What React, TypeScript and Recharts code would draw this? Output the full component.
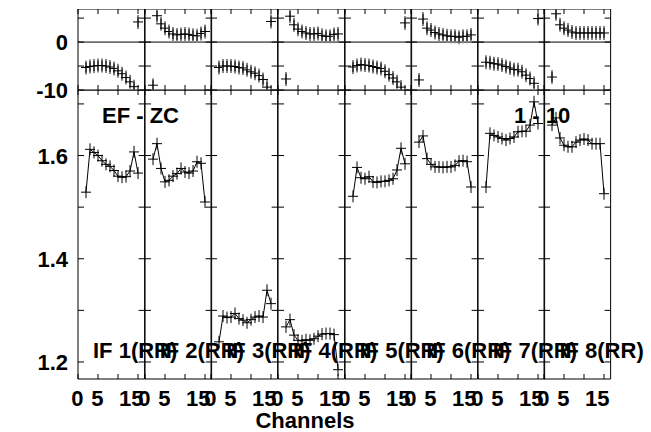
import {
  Line,
  LineChart,
  ReferenceLine,
  Scatter,
  ScatterChart,
  XAxis,
  YAxis,
} from "recharts";

// channels plotted in every IF panel
const CHANNELS = [2, 3, 4, 5, 6, 7, 8, 9, 10, 11, 12, 13, 14, 15];
const IF_NAMES = ["IF 1(RR)", "IF 2(RR)", "IF 3(RR)", "IF 4(RR)", "IF 5(RR)", "IF 6(RR)", "IF 7(RR)", "IF 8(RR)"];

// amplitude per channel
const AMP_IF1 = [1.529, 1.612, 1.606, 1.6, 1.59, 1.583, 1.579, 1.571, 1.56, 1.558, 1.559, 1.57, 1.607, 1.566];
const AMP_IF2 = [1.593, 1.623, 1.575, 1.549, 1.552, 1.56, 1.565, 1.575, 1.568, 1.566, 1.57, 1.588, 1.585, 1.51];
const AMP_IF3 = [1.239, 1.289, 1.286, 1.287, 1.294, 1.284, 1.281, 1.276, 1.282, 1.287, 1.289, 1.287, 1.339, 1.313];
const AMP_IF4 = [1.268, 1.282, 1.252, 1.242, 1.241, 1.243, 1.242, 1.245, 1.25, 1.254, 1.255, 1.255, 1.253, 1.185];
const AMP_IF5 = [1.521, 1.577, 1.557, 1.555, 1.559, 1.549, 1.548, 1.55, 1.55, 1.552, 1.555, 1.572, 1.614, 1.584];
const AMP_IF6 = [1.626, 1.638, 1.594, 1.583, 1.578, 1.578, 1.577, 1.578, 1.578, 1.581, 1.589, 1.59, 1.588, 1.539];
const AMP_IF7 = [1.539, 1.643, 1.639, 1.636, 1.633, 1.63, 1.633, 1.636, 1.646, 1.647, 1.647, 1.659, 1.704, 1.662];
const AMP_IF8 = [1.659, 1.673, 1.634, 1.62, 1.617, 1.617, 1.626, 1.63, 1.632, 1.63, 1.623, 1.623, 1.623, 1.526];

// phase per channel (degrees)
const PHASE_IF1 = [-5.3, -5.1, -5.0, -4.9, -4.9, -5.0, -5.2, -5.5, -6.0, -6.6, -7.4, -8.3, -9.3, 4.2];
const PHASE_IF2 = [-9.0, 5.5, 3.8, 2.9, 2.2, 1.7, 1.5, 1.6, 1.7, 1.6, 1.4, 1.3, 1.8, 2.2];
const PHASE_IF3 = [-5.3, -5.0, -5.0, -5.0, -5.1, -5.3, -5.4, -5.8, -6.2, -6.5, -7.0, -7.8, -9.4, 4.3];
const PHASE_IF4 = [-7.7, 5.4, 3.6, 2.7, 2.2, 1.9, 1.7, 1.7, 1.8, 1.4, 1.2, 1.2, 1.6, 1.7];
const PHASE_IF5 = [-5.2, -4.9, -4.7, -4.8, -4.9, -5.1, -5.3, -5.5, -6.1, -6.8, -7.5, -8.3, -9.4, 4.0];
const PHASE_IF6 = [-7.9, 4.8, 2.9, 2.5, 2.0, 1.7, 1.5, 1.3, 1.2, 1.2, 1.0, 1.2, 1.2, 1.5];
const PHASE_IF7 = [-4.2, -4.3, -4.5, -4.6, -4.8, -5.1, -5.4, -5.7, -5.8, -6.2, -6.9, -7.6, -8.6, 4.9];
const PHASE_IF8 = [-7.3, 5.9, 3.6, 2.9, 2.5, 2.1, 1.9, 1.9, 1.9, 1.9, 1.9, 1.9, 1.9, 1.9];

const AMP_SERIES = [AMP_IF1, AMP_IF2, AMP_IF3, AMP_IF4, AMP_IF5, AMP_IF6, AMP_IF7, AMP_IF8];
const PHASE_SERIES = [PHASE_IF1, PHASE_IF2, PHASE_IF3, PHASE_IF4, PHASE_IF5, PHASE_IF6, PHASE_IF7, PHASE_IF8];

const X_TICKS = [0, 5, 10, 15];
const X_TICK_LABELS = ["0", "5", "", "15"];
const AMP_TICKS = [1.2, 1.3, 1.4, 1.5, 1.6, 1.7];
const AMP_TICK_LABELS = ["1.2", "", "1.4", "", "1.6", ""];
const PHASE_TICKS = [-10, -5, 0, 5];
const PHASE_TICK_LABELS = ["-10", "", "0", ""];

const X_DOMAIN: [number, number] = [0, 16.65];
const AMP_DOMAIN: [number, number] = [1.167, 1.727];
const PHASE_DOMAIN: [number, number] = [-10, 6.9];

const FRAME_LEFT = 78;
const PANEL_W = 66.625;
const PHASE_TOP = 9;
const PHASE_H = 81;
const AMP_TOP = 90;
const AMP_H = 289;
const PAD = 24;
const LABEL_H = 40;
const TICK = 6;

const FONT = {
  fontFamily: '"Liberation Sans", Arial, Helvetica, sans-serif',
  fontWeight: 700,
  fontSize: 22,
  fill: "#000",
};

function labelFor(value: number, ticks?: number[], labels?: string[]) {
  if (!ticks || !labels) return "";
  const i = ticks.findIndex((t) => Math.abs(t - value) < 1e-6);
  return i >= 0 ? labels[i] : "";
}

function leftLabel(ticks?: number[], labels?: string[]) {
  return (props: any) => {
    const { x, y, payload } = props;
    const text = labelFor(payload.value, ticks, labels);
    if (!text) return <g />;
    return (
      <text x={x - 10} y={y + 8} textAnchor="end" {...FONT}>
        {text}
      </text>
    );
  };
}

function bottomLabel(props: any) {
  const { x, y, payload } = props;
  const text = labelFor(payload.value, X_TICKS, X_TICK_LABELS);
  if (!text) return <g />;
  return (
    <text x={x + 5.5} y={y + 27} textAnchor="end" {...FONT}>
      {text}
    </text>
  );
}

const noLabel = () => <g />;

// short inward ticks at both ends of a horizontal reference line
function HTicks(props: any) {
  const { x1, x2, y1 } = props;
  const a = Math.min(x1, x2);
  const b = Math.max(x1, x2);
  return (
    <g>
      <line x1={a} x2={a + TICK} y1={y1} y2={y1} stroke="#000" />
      <line x1={b - TICK} x2={b} y1={y1} y2={y1} stroke="#000" />
    </g>
  );
}

// short inward ticks at both ends of a vertical reference line
function VTicks(props: any) {
  const { x1, y1, y2 } = props;
  const a = Math.min(y1, y2);
  const b = Math.max(y1, y2);
  return (
    <g>
      <line x1={x1} x2={x1} y1={a} y2={a + 5} stroke="#000" />
      <line x1={x1} x2={x1} y1={b - 5} y2={b} stroke="#000" />
    </g>
  );
}

function AmpCross(props: any) {
  const { cx, cy } = props;
  if (cx == null || cy == null) return <g />;
  return (
    <g>
      <line x1={cx - 5} x2={cx + 5} y1={cy} y2={cy} stroke="#000" />
      <line x1={cx} x2={cx} y1={cy - 6} y2={cy + 6} stroke="#000" />
    </g>
  );
}

function PhaseCross(props: any) {
  const { cx, cy } = props;
  if (cx == null || cy == null) return <g />;
  return (
    <g>
      <line x1={cx} x2={cx} y1={cy - 7} y2={cy + 7} stroke="#888" strokeWidth={2} />
      <line x1={cx - 5} x2={cx + 5} y1={cy} y2={cy} stroke="#000" />
      <line x1={cx} x2={cx} y1={cy - 5} y2={cy + 5} stroke="#000" />
    </g>
  );
}

function frameLines(yDomain: [number, number], yTicks: number[]) {
  return [
    <ReferenceLine key="fl" xAxisId="b" yAxisId="l" x={X_DOMAIN[0]} stroke="#000" ifOverflow="visible" />,
    <ReferenceLine key="fr" xAxisId="b" yAxisId="l" x={X_DOMAIN[1]} stroke="#000" ifOverflow="visible" />,
    <ReferenceLine key="fb" xAxisId="b" yAxisId="l" y={yDomain[0]} stroke="#000" ifOverflow="visible" />,
    <ReferenceLine key="ft" xAxisId="b" yAxisId="l" y={yDomain[1]} stroke="#000" ifOverflow="visible" />,
    ...yTicks.map((t) => (
      <ReferenceLine key={`yt${t}`} xAxisId="b" yAxisId="l" y={t} ifOverflow="visible" shape={HTicks} />
    )),
    ...X_TICKS.map((t) => (
      <ReferenceLine key={`xt${t}`} xAxisId="b" yAxisId="l" x={t} ifOverflow="visible" shape={VTicks} />
    )),
  ];
}

function PhasePanel({ index }: { index: number }) {
  const first = index === 0;
  const leftSpace = first ? FRAME_LEFT : PAD;
  const data = CHANNELS.map((ch, k) => ({ ch, phase: PHASE_SERIES[index][k] }));
  const left = FRAME_LEFT + index * PANEL_W - leftSpace;
  return (
    <div style={{ position: "absolute", left, top: PHASE_TOP }}>
      <ScatterChart
        width={leftSpace + PANEL_W + PAD}
        height={PHASE_H + 14}
        margin={{ top: 0, right: PAD, bottom: 0, left: first ? 0 : PAD }}
      >
        <XAxis xAxisId="b" dataKey="ch" type="number" domain={X_DOMAIN} ticks={X_TICKS} interval={0}
          height={14} tickSize={0} tickMargin={0} tickLine={false} axisLine={false} tick={noLabel} allowDataOverflow />
        <YAxis yAxisId="l" dataKey="phase" type="number" domain={PHASE_DOMAIN} ticks={PHASE_TICKS} interval={0}
          width={first ? FRAME_LEFT : 0} tickSize={0} tickMargin={0} tickLine={false} axisLine={false}
          tick={first ? leftLabel(PHASE_TICKS, PHASE_TICK_LABELS) : noLabel} allowDataOverflow />
        {frameLines(PHASE_DOMAIN, PHASE_TICKS)}
        <ReferenceLine xAxisId="b" yAxisId="l" y={0} stroke="#000" />
        <Scatter xAxisId="b" yAxisId="l" data={data} dataKey="phase" isAnimationActive={false}
          shape={(p: any) => <PhaseCross cx={p.cx} cy={p.cy} />} />
      </ScatterChart>
    </div>
  );
}

function AmpPanel({ index }: { index: number }) {
  const first = index === 0;
  const leftSpace = first ? FRAME_LEFT : PAD;
  const data = CHANNELS.map((ch, k) => ({ ch, amp: AMP_SERIES[index][k] }));
  const left = FRAME_LEFT + index * PANEL_W - leftSpace;
  return (
    <div style={{ position: "absolute", left, top: AMP_TOP }}>
      <LineChart
        width={leftSpace + PANEL_W + PAD}
        height={AMP_H + LABEL_H}
        data={data}
        margin={{ top: 0, right: PAD, bottom: 0, left: first ? 0 : PAD }}
      >
        <XAxis xAxisId="b" dataKey="ch" type="number" domain={X_DOMAIN} ticks={X_TICKS} interval={0}
          height={LABEL_H} tickSize={0} tickMargin={0} tickLine={false} axisLine={false} tick={bottomLabel} allowDataOverflow />
        <YAxis yAxisId="l" type="number" domain={AMP_DOMAIN} ticks={AMP_TICKS} interval={0}
          width={first ? FRAME_LEFT : 0} tickSize={0} tickMargin={0} tickLine={false} axisLine={false}
          tick={first ? leftLabel(AMP_TICKS, AMP_TICK_LABELS) : noLabel} allowDataOverflow />
        {frameLines(AMP_DOMAIN, AMP_TICKS)}
        <Line xAxisId="b" yAxisId="l" dataKey="amp" stroke="#000" strokeWidth={1} isAnimationActive={false}
          dot={(p: any) => <AmpCross key={p.index} cx={p.cx} cy={p.cy} />} />
      </LineChart>
    </div>
  );
}

export default function App() {
  return (
    <div style={{ position: "absolute", left: 0, top: 0, width: 651, height: 432, background: "#fff" }}>
      {IF_NAMES.map((name, i) => (
        <PhasePanel key={`p-${name}`} index={i} />
      ))}
      {IF_NAMES.map((name, i) => (
        <AmpPanel key={`a-${name}`} index={i} />
      ))}
      <svg width={651} height={432} style={{ position: "absolute", left: 0, top: 0, pointerEvents: "none" }}>
        <text x={102} y={123} {...FONT}>EF - ZC</text>
        <text x={514} y={123} {...FONT}>1 - 10</text>
        {IF_NAMES.map((name, i) => (
          <text key={name} x={FRAME_LEFT + 15 + i * PANEL_W} y={358} {...FONT}>
            {name}
          </text>
        ))}
        <text x={305} y={428} textAnchor="middle" {...FONT}>Channels</text>
      </svg>
    </div>
  );
}
